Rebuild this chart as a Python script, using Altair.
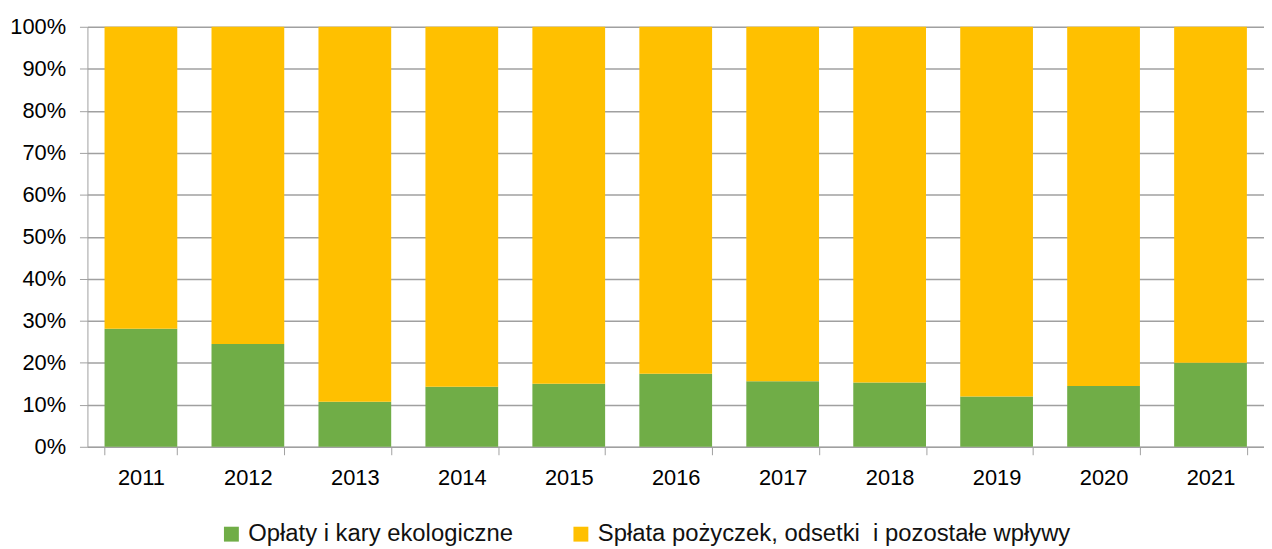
import altair as alt
import pandas as pd

years = ["2011", "2012", "2013", "2014", "2015", "2016", "2017", "2018", "2019", "2020", "2021"]
oplaty = [28.1, 24.5, 10.7, 14.3, 15.0, 17.4, 15.6, 15.3, 12.0, 14.5, 20.0]
splata = [round(100 - v, 1) for v in oplaty]
series = ["Opłaty i kary ekologiczne", "Spłata pożyczek, odsetki\u00a0 i pozostałe wpływy"]
colors = ["#70AD47", "#FFC000"]
y_ticks = [0, 10, 20, 30, 40, 50, 60, 70, 80, 90, 100]

rows = []
for i, y in enumerate(years):
    rows.append({"rok": y, "seria": series[0], "wartosc": oplaty[i], "kolej": 0})
    rows.append({"rok": y, "seria": series[1], "wartosc": splata[i], "kolej": 1})
df = pd.DataFrame(rows)

FONT = "Liberation Sans"

chart = alt.Chart(df).mark_bar().encode(
    x=alt.X("rok:N", title=None, sort=years,
            scale=alt.Scale(paddingInner=0.32, paddingOuter=0.16),
            axis=alt.Axis(labelAngle=0, tickBand="extent", tickSize=8, labelPadding=13,
                          domainColor="#A0A0A0", tickColor="#A0A0A0", labelFontSize=22,
                          labelFont=FONT, labelColor="#000000", grid=False)),
    y=alt.Y("wartosc:Q", title=None, stack="zero",
            scale=alt.Scale(domain=[0, 100], nice=False),
            axis=alt.Axis(values=y_ticks, labelExpr="datum.value + '%'", tickSize=8,
                          labelPadding=14, domainColor="#A0A0A0", tickColor="#A0A0A0",
                          gridColor="#A0A0A0", gridWidth=1.5, labelFontSize=22,
                          labelFont=FONT, labelColor="#000000")),
    color=alt.Color("seria:N", sort=series,
                    scale=alt.Scale(domain=series, range=colors),
                    legend=alt.Legend(title=None, orient="none", direction="horizontal",
                                      legendX=133, legendY=499, symbolType="square",
                                      symbolSize=225, symbolStrokeWidth=0, labelFontSize=24,
                                      labelFont=FONT, labelColor="#111111", columnPadding=56,
                                      labelOffset=5, labelLimit=800)),
    order=alt.Order("kolej:Q", sort="ascending"),
).properties(
    width=1185, height=423,
    padding={"left": 1, "top": 6, "right": 0, "bottom": 0},
).configure_view(stroke=None)

chart.save("out.html", embed_options={"renderer": "svg", "actions": False})
